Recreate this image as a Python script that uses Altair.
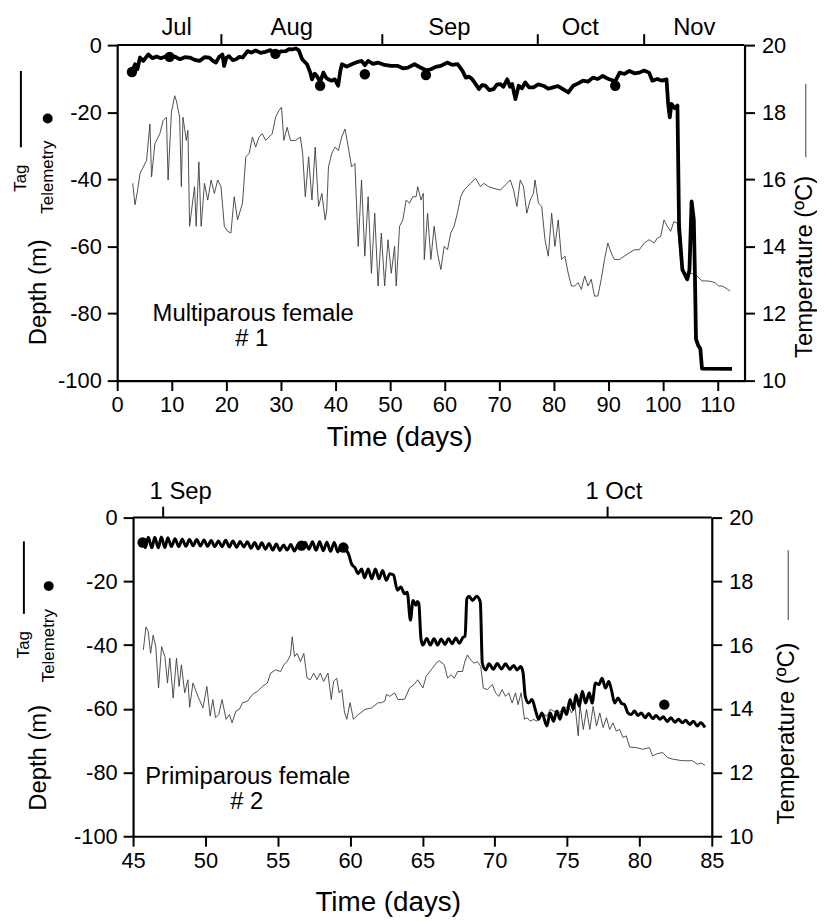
import altair as alt
import pandas as pd

FONT = "Liberation Sans"
INK = "black"
TEMP_INK = "#3c3c3c"

# ---------------- Panel 1 (multiparous female #1) ----------------
p1_tag = [(2.67, -8.0), (3.28, -5.7), (3.7, -7.2), (4.18, -3.7), (4.79, -4.7), (5.7, -2.8), (6.5, -3.9),
          (7.2, -3.4), (8.0, -3.9), (9.0, -3.3), (9.6, -3.6), (10.5, -3.4), (11.5, -4.2), (12.4, -3.6),
          (13.3, -3.7), (14.2, -4.4), (15.1, -4.7), (16.0, -3.6), (16.9, -3.7), (17.5, -4.6), (18.1, -5.2),
          (18.7, -3.5), (19.3, -2.8), (19.6, -6.2), (20.0, -3.8), (20.5, -3.3), (21.2, -4.5), (21.8, -4.2),
          (22.4, -3.5), (23.0, -3.7), (23.9, -1.8), (24.6, -2.2), (25.4, -1.6), (26.3, -2.3), (27.2, -2.0),
          (28.1, -1.5), (29.0, -2.6), (30.0, -1.9), (30.9, -1.8), (31.5, -1.2), (32.1, -1.3), (32.7, -1.0),
          (33.3, -1.6), (33.9, -4.2), (34.8, -5.7), (35.4, -8.2), (35.7, -10.2), (36.2, -8.5), (36.6, -9.2),
          (37.2, -11.0), (37.8, -8.2), (38.3, -9.7), (38.7, -10.2), (39.3, -10.6), (39.9, -10.2), (40.5, -12.1),
          (40.9, -7.7), (41.2, -5.7), (42.1, -6.4), (43.0, -5.7), (43.9, -5.1), (44.8, -4.7), (45.4, -6.0),
          (46.0, -4.7), (46.9, -5.6), (47.8, -5.2), (49.0, -5.9), (50.2, -6.2), (51.45, -6.2), (52.4, -6.9),
          (53.3, -6.7), (54.5, -5.7), (55.5, -6.6), (56.6, -7.5), (57.5, -7.2), (58.4, -6.5), (59.3, -6.2),
          (60.5, -5.2), (61.4, -5.9), (62.4, -5.7), (63.3, -7.7), (63.9, -9.7), (64.5, -9.4), (65.1, -10.2),
          (65.7, -11.6), (66.3, -13.1), (66.9, -11.9), (67.5, -12.1), (68.2, -13.4), (69.0, -13.1),
          (69.6, -11.8), (70.2, -11.6), (70.8, -12.4), (71.5, -10.2), (72.0, -12.4), (72.4, -11.6),
          (73.0, -16.1), (73.6, -12.1), (74.2, -12.9), (74.8, -11.1), (75.5, -12.6), (76.3, -12.6),
          (77.2, -11.7), (78.1, -12.1), (79.0, -13.0), (79.9, -12.6), (80.8, -12.2), (81.7, -13.1),
          (82.7, -14.1), (83.6, -12.1), (84.5, -11.4), (85.4, -10.6), (86.3, -10.9), (87.2, -9.7),
          (88.1, -10.1), (89.0, -9.2), (90.2, -10.2), (91.3, -10.8), (92.1, -8.2), (93.0, -8.6), (93.9, -7.7),
          (94.8, -8.4), (95.7, -8.2), (96.6, -7.6), (97.5, -8.2), (98.1, -10.6), (99.0, -10.1), (99.9, -10.6),
          (100.7, -10.2), (101.0, -17.5), (101.3, -21.5), (101.6, -17.5), (102.2, -18.8), (102.7, -18.0),
          (103.0, -54.0), (103.6, -66.9), (104.5, -69.8), (104.9, -67.0), (105.3, -46.6), (105.7, -52.0),
          (105.9, -67.9), (106.1, -87.6), (106.5, -89.5), (106.9, -90.5), (107.2, -96.4), (112.7, -96.5)]

p1_temp = [(2.85, 15.88), (3.27, 15.24), (3.70, 15.63), (4.18, 16.17), (4.79, 16.37), (5.39, 16.57),
           (6.00, 17.65), (6.30, 16.07), (6.91, 17.06), (7.82, 17.36), (8.42, 17.75), (9.03, 17.85),
           (9.33, 15.98), (9.94, 18.00), (10.55, 18.49), (10.85, 18.34), (11.45, 17.85), (11.76, 15.78),
           (12.06, 17.85), (12.67, 17.16), (12.97, 17.46), (13.27, 14.6), (14.18, 15.78), (14.48, 14.6),
           (14.97, 16.52), (15.39, 14.6), (16.0, 15.88), (16.6, 15.38), (17.21, 15.98), (17.82, 15.58),
           (18.42, 15.98), (19.03, 15.78), (19.64, 14.6), (20.24, 14.45), (20.85, 14.4), (21.45, 15.48),
           (22.06, 14.79), (22.97, 15.29), (23.58, 16.67), (24.18, 16.77), (24.79, 17.26), (25.39, 16.96),
           (26.0, 17.26), (26.6, 17.36), (27.21, 17.16), (27.82, 17.26), (28.42, 17.36), (29.03, 17.85),
           (29.64, 18.05), (30.12, 18.15), (30.55, 17.16), (31.15, 17.55), (31.76, 17.16), (32.67, 17.16),
           (33.58, 17.26), (34.0, 16.77), (34.48, 15.48), (35.09, 16.67), (35.7, 15.38), (36.3, 16.96),
           (36.91, 15.19), (37.52, 15.58), (38.12, 14.79), (38.42, 15.09), (38.73, 16.37), (39.33, 16.77),
           (39.94, 16.96), (40.55, 16.86), (41.15, 17.26), (41.76, 17.5), (42.36, 16.96), (42.97, 16.37),
           (43.58, 16.47), (44.18, 14.0), (44.79, 15.98), (45.39, 13.71), (46.0, 15.48), (46.6, 13.2),
           (47.21, 14.99), (47.82, 12.82), (48.42, 14.4), (49.03, 12.82), (49.64, 14.2), (50.24, 13.2),
           (50.85, 14.0), (51.15, 12.82), (51.76, 14.6), (52.36, 14.79), (52.97, 15.38), (53.58, 15.29),
           (54.18, 15.48), (54.79, 15.48), (55.09, 15.78), (55.7, 15.38), (56.1, 15.58), (56.3, 13.61),
           (56.9, 14.99), (57.5, 13.61), (58.1, 14.6), (58.7, 13.81), (59.33, 13.31), (59.94, 14.0),
           (60.55, 13.9), (61.15, 14.4), (61.76, 14.6), (62.36, 14.99), (62.97, 15.48), (63.58, 15.68),
           (64.18, 15.78), (64.79, 15.88), (65.7, 16.03), (66.6, 15.78), (67.2, 15.88), (68.1, 15.78),
           (69.03, 15.73), (70.24, 15.68), (71.45, 15.88), (72.06, 15.98), (72.67, 15.68), (73.27, 15.19),
           (73.88, 15.98), (74.48, 15.78), (75.09, 14.99), (75.7, 15.38), (76.3, 15.58), (76.6, 15.98),
           (77.21, 15.29), (77.82, 15.19), (78.42, 14.2), (79.03, 13.71), (79.64, 14.99), (80.24, 14.0),
           (80.85, 14.79), (81.45, 13.61), (82.06, 13.71), (82.67, 13.21), (83.27, 12.82), (83.88, 12.82),
           (84.48, 12.92), (85.09, 12.72), (85.7, 13.12), (86.3, 12.82), (86.9, 13.02), (87.5, 12.52),
           (88.12, 12.52), (88.73, 13.02), (89.33, 13.61), (89.94, 14.1), (90.55, 13.81), (91.15, 13.61),
           (92.06, 13.61), (92.97, 13.71), (93.88, 13.81), (94.79, 13.9), (95.7, 13.9), (96.6, 14.1),
           (97.5, 14.2), (98.42, 14.1), (99.03, 14.25), (99.64, 14.3), (100.24, 14.79), (100.85, 14.6),
           (101.45, 14.45), (102.06, 14.74), (102.67, 14.69), (103.27, 13.61), (103.88, 13.31),
           (104.5, 13.02), (105.1, 13.21), (105.7, 13.17), (106.3, 13.12), (107.2, 12.97), (108.4, 12.97),
           (109.6, 12.92), (110.24, 12.82), (110.85, 12.82), (111.45, 12.77), (112.36, 12.67)]

p1_tel = [(2.7, -8.0), (9.6, -3.5), (29.0, -2.6), (37.2, -12.1), (45.4, -8.7), (56.6, -8.9), (91.3, -12.1)]

p1_x_ticks = [0, 10, 20, 30, 40, 50, 60, 70, 80, 90, 100, 110]
p1_month_bounds = [19.1, 48.6, 77.1, 96.6]
p1_month_names = ["Jul", "Aug", "Sep", "Oct", "Nov"]
p1_month_centers = [10.9, 32.0, 60.9, 84.9, 105.8]

# ---------------- Panel 2 (primiparous female #2) ----------------
p2_tag = [(45.66, -7.8), (45.85, -9.4), (46.05, -6.2), (46.3, -9.5), (46.5, -6.2), (46.75, -9.5), (46.95, -6.1),
          (47.2, -9.4), (47.4, -6.3), (47.65, -9.1), (47.9, -6.6), (48.15, -9.1), (48.4, -6.8), (48.65, -9.0),
          (48.9, -6.9), (49.15, -8.8), (49.4, -6.9), (49.65, -8.9), (49.9, -7.0), (50.15, -9.0), (50.4, -7.2),
          (50.65, -9.1), (50.9, -7.3), (51.15, -9.1), (51.4, -7.1), (51.65, -9.2), (51.9, -7.3), (52.15, -9.3),
          (52.4, -7.5), (52.65, -9.2), (52.9, -7.6), (53.15, -9.6), (53.4, -7.8), (53.65, -9.8), (53.9, -7.9),
          (54.15, -9.9), (54.4, -8.1), (54.65, -10.2), (54.9, -8.3), (55.15, -10.3), (55.4, -8.6),
          (55.65, -10.2), (55.9, -8.4), (56.15, -10.5), (56.4, -8.6), (56.64, -8.8), (56.9, -7.8),
          (57.15, -9.9), (57.4, -7.6), (57.65, -10.2), (57.9, -7.6), (58.15, -10.4), (58.4, -7.7),
          (58.65, -10.6), (58.9, -7.8), (59.15, -10.8), (59.4, -8.5), (59.65, -9.7), (59.9, -11.5),
          (60.1, -14.5), (60.35, -15.8), (60.55, -17.6), (60.8, -16.1), (61.0, -18.9), (61.25, -16.1),
          (61.5, -19.2), (61.75, -16.1), (62.0, -19.2), (62.25, -16.6), (62.5, -19.7), (62.75, -17.6),
          (63.0, -18.0), (63.27, -22.8), (63.5, -21.8), (63.77, -23.9), (63.95, -23.4), (64.17, -32.2),
          (64.35, -26.0), (64.55, -27.5), (64.65, -26.3), (64.75, -26.9), (64.9, -38.0), (65.03, -40.0),
          (65.3, -37.9), (65.55, -40.0), (65.8, -38.0), (66.05, -40.0), (66.3, -38.1), (66.55, -39.8),
          (66.8, -38.0), (67.05, -39.6), (67.3, -37.8), (67.55, -39.4), (67.8, -37.6), (67.95, -37.2),
          (68.07, -25.5), (68.23, -24.7), (68.46, -26.0), (68.75, -24.7), (69.0, -26.5), (69.14, -45.7),
          (69.37, -47.8), (69.6, -45.9), (69.9, -47.6), (70.17, -45.8), (70.47, -47.5), (70.74, -45.9),
          (71.04, -47.6), (71.31, -46.4), (71.54, -47.8), (71.8, -46.7), (71.95, -48.5), (72.11, -56.1),
          (72.34, -58.2), (72.57, -57.1), (72.8, -60.2), (73.03, -63.3), (73.26, -61.3), (73.6, -65.4),
          (73.83, -61.3), (74.06, -63.9), (74.29, -60.7), (74.51, -63.3), (74.74, -59.7), (74.97, -61.8),
          (75.2, -57.1), (75.43, -60.2), (75.61, -55.6), (75.84, -59.2), (76.05, -54.5), (76.28, -58.2),
          (76.53, -55.0), (76.73, -58.2), (76.96, -51.9), (77.19, -52.4), (77.42, -50.4), (77.65, -53.5),
          (77.88, -51.4), (78.06, -54.0), (78.29, -58.2), (78.52, -56.6), (78.74, -58.2), (78.97, -58.7),
          (79.2, -61.3), (79.43, -61.8), (79.66, -60.7), (79.89, -62.1), (80.12, -61.3), (80.39, -62.8),
          (80.64, -61.5), (80.92, -63.1), (81.15, -62.1), (81.42, -63.3), (81.65, -62.5), (81.92, -64.0),
          (82.17, -62.8), (82.45, -64.2), (82.7, -63.3), (82.97, -64.4), (83.2, -63.6), (83.48, -64.9),
          (83.73, -63.9), (84.0, -65.4), (84.23, -64.4), (84.53, -65.9)]

p2_temp = [(45.71, 15.85), (45.89, 16.57), (46.05, 16.42), (46.21, 15.74), (46.39, 16.31), (46.57, 15.95),
           (46.76, 14.65), (46.97, 15.95), (47.2, 15.64), (47.38, 14.81), (47.54, 15.59), (47.77, 14.34),
           (48.0, 15.59), (48.18, 14.7), (48.34, 15.38), (48.57, 14.5), (48.79, 14.91), (48.91, 14.05),
           (49.14, 14.81), (49.48, 14.39), (49.83, 14.03), (50.1, 14.7), (50.33, 13.77), (50.51, 14.29),
           (50.7, 13.72), (50.92, 13.82), (51.15, 14.29), (51.43, 13.67), (51.66, 13.82), (51.84, 13.56),
           (52.11, 13.93), (52.34, 13.98), (52.57, 14.19), (52.91, 14.24), (53.26, 14.45), (53.6, 14.55),
           (53.94, 14.7), (54.28, 14.81), (54.51, 15.12), (54.85, 15.22), (55.2, 15.17), (55.42, 15.38),
           (55.65, 15.48), (55.88, 15.69), (56.0, 16.26), (56.16, 15.64), (56.34, 15.74), (56.57, 15.48),
           (56.8, 15.74), (57.03, 14.96), (57.25, 14.91), (57.48, 15.12), (57.71, 14.91), (57.94, 15.12),
           (58.17, 14.86), (58.47, 15.12), (58.7, 14.29), (58.86, 14.86), (59.08, 14.96), (59.24, 14.5),
           (59.43, 14.6), (59.61, 13.9), (59.77, 13.67), (60.0, 14.19), (60.23, 13.67), (60.57, 13.82),
           (61.03, 13.98), (61.49, 14.03), (61.94, 14.19), (62.17, 14.19), (62.4, 14.24), (62.51, 14.45),
           (62.74, 14.39), (63.08, 14.5), (63.31, 14.29), (63.77, 14.3), (64.11, 14.65), (64.41, 14.76),
           (64.68, 14.91), (65.03, 14.65), (65.26, 15.02), (65.6, 15.22), (65.94, 15.43), (66.17, 15.51),
           (66.51, 15.38), (66.74, 14.96), (66.97, 15.07), (67.2, 14.96), (67.43, 15.17), (67.77, 15.17),
           (67.93, 15.48), (68.11, 15.69), (68.34, 15.53), (68.57, 15.43), (68.8, 15.48), (69.03, 15.33),
           (69.21, 14.65), (69.48, 14.6), (69.83, 14.76), (70.06, 14.5), (70.28, 14.39), (70.51, 14.6),
           (70.74, 14.39), (70.97, 14.5), (71.2, 14.18), (71.43, 14.5), (71.61, 14.13), (71.82, 14.5),
           (72.05, 13.67), (72.23, 13.72), (72.46, 13.61), (72.69, 13.67), (72.91, 13.61), (73.26, 13.87),
           (73.6, 13.77), (73.83, 13.98), (74.06, 13.93), (74.4, 13.87), (74.74, 13.98), (75.09, 14.08),
           (75.31, 13.87), (75.54, 14.13), (75.77, 13.15), (75.89, 14.13), (76.12, 13.35), (76.34, 13.98),
           (76.57, 13.35), (76.8, 14.08), (77.03, 13.46), (77.26, 13.87), (77.49, 13.41), (77.72, 13.72),
           (77.94, 13.35), (78.17, 13.56), (78.4, 13.3), (78.63, 13.35), (78.86, 13.1), (79.09, 13.15),
           (79.32, 12.8), (79.77, 12.78), (80.23, 12.73), (80.69, 12.78), (80.91, 12.52), (81.15, 12.58),
           (81.6, 12.63), (81.94, 12.47), (82.29, 12.42), (82.97, 12.37), (83.66, 12.37), (84.0, 12.26),
           (84.25, 12.3), (84.53, 12.23)]

p2_tel = [(45.66, -7.8), (56.64, -8.8), (59.54, -9.4), (81.72, -58.7)]

p2_x_ticks = [45, 50, 55, 60, 65, 70, 75, 80, 85]
p2_date_ticks = [47.08, 77.8]
p2_date_names = ["1 Sep", "1 Oct"]
p2_date_centers = [48.29, 78.23]

depth_ticks = [-100, -80, -60, -40, -20, 0]
temp_ticks = [10, 12, 14, 16, 18, 20]


def axis_style(**kw):
    base = dict(grid=False, title=None, tickSize=10, tickWidth=2, domainWidth=2.2,
                labelFontSize=22, labelFont=FONT, labelColor=INK, tickColor=INK,
                domainColor=INK, labelFlush=False, labelOverlap=False,
                labelExpr="'' + datum.value")
    base.update(kw)
    return alt.Axis(**base)


def text_mark(txt, x, y, size, angle=0, baseline="middle", align="center"):
    return alt.Chart(pd.DataFrame({"t": [txt]})).mark_text(
        fontSize=size, font=FONT, color=INK, angle=angle, baseline=baseline, align=align
    ).encode(text="t:N", x=alt.value(x), y=alt.value(y))


def vrule(x, y1, y2, width, color=INK):
    return alt.Chart(pd.DataFrame({"k": [0]})).mark_rule(color=color, strokeWidth=width).encode(
        x=alt.value(x), y=alt.value(y1), y2=alt.value(y2))


def build_panel(tag, temp, tel, xdom, xvals, xrange_, width, height, yoff,
                top_ticks, top_names, top_centers, top_label_y,
                ann1, ann1_pos, ann2, ann2_pos, time_pos, left, right, tag_width, interp):
    xs = alt.Scale(domain=xdom, range=xrange_, nice=False, zero=False)
    ys = alt.Scale(domain=[-100, 0], nice=False, zero=False)
    ts = alt.Scale(domain=[10, 20], nice=False, zero=False)

    tag_df = pd.DataFrame(tag, columns=["day", "depth"])
    temp_df = pd.DataFrame(temp, columns=["day", "temp"])
    tel_df = pd.DataFrame(tel, columns=["day", "depth"])

    temp_line = alt.Chart(temp_df).mark_line(color=TEMP_INK, strokeWidth=0.9).encode(
        x=alt.X("day:Q", scale=xs, axis=axis_style(values=xvals, labelPadding=4)),
        y=alt.Y("temp:Q", scale=ts, axis=axis_style(orient="right", values=temp_ticks, labelPadding=7)),
    )
    depth_axis = axis_style(orient="left", values=depth_ticks, labelPadding=6, offset=yoff)
    tag_line = alt.Chart(tag_df).mark_line(color=INK, strokeWidth=tag_width, interpolate=interp,
                                           strokeJoin="round").encode(
        x=alt.X("day:Q"),
        y=alt.Y("depth:Q", scale=ys, axis=depth_axis),
    )
    tel_pts = alt.Chart(tel_df).mark_circle(color=INK, size=110, opacity=1).encode(
        x="day:Q", y=alt.Y("depth:Q", scale=ys, axis=depth_axis))

    top_line = alt.Chart(pd.DataFrame({"a": [xdom[0]], "b": [xdom[1]]})).mark_rule(
        color=INK, strokeWidth=2).encode(x="a:Q", x2="b:Q", y=alt.value(0))
    top_tick = alt.Chart(pd.DataFrame({"d": top_ticks})).mark_rule(color=INK, strokeWidth=2).encode(
        x="d:Q", y=alt.value(0), y2=alt.value(-11))
    top_lab = alt.Chart(pd.DataFrame({"c": top_centers, "m": top_names})).mark_text(
        fontSize=24, font=FONT, color=INK, baseline="alphabetic").encode(
        x="c:Q", y=alt.value(top_label_y), text="m:N")

    extras = [
        text_mark(ann1, ann1_pos[0], ann1_pos[1], 24, baseline="alphabetic"),
        text_mark(ann2, ann2_pos[0], ann2_pos[1], 24, baseline="alphabetic"),
        text_mark("Time (days)", time_pos[0], time_pos[1], 28, baseline="alphabetic"),
        # left title block
        vrule(left["tag_x"], left["line_y"][0], left["line_y"][1], 2),
        text_mark("Tag", left["tag_x"], left["tag_y"], 17, angle=270),
        alt.Chart(pd.DataFrame({"k": [0]})).mark_circle(color=INK, size=100, opacity=1).encode(
            x=alt.value(left["tel_x"]), y=alt.value(left["dot_y"])),
        text_mark("Telemetry", left["tel_x"], left["tel_y"], 17, angle=270),
        text_mark("Depth (m)", left["depth_x"], left["depth_y"], 24, angle=270),
        # right title block
        vrule(right["line_x"], right["line_y"][0], right["line_y"][1], 1, TEMP_INK),
        text_mark("Temperature (ºC)", right["x"], right["y"], 24, angle=270),
    ]

    depth_layer = alt.layer(tag_line, tel_pts, top_line, top_tick, top_lab, *extras)
    return alt.layer(temp_line, depth_layer).resolve_scale(y="independent").properties(
        width=width, height=height)


panel1 = build_panel(
    p1_tag, p1_temp, p1_tel, [0, 115], p1_x_ticks, [0, 632], 632, 338, 0,
    p1_month_bounds, p1_month_names, p1_month_centers, -10.5,
    "Multiparous female", (137, 277.7), "# 1", (135.5, 303), (284.5, 404),
    dict(tag_x=-97, line_y=(26, 103), tag_y=134, tel_x=-70, dot_y=74, tel_y=133, depth_x=-79, depth_y=249),
    dict(line_x=693.7, line_y=(39, 113), x=693, y=223.5),
    3.8, "linear",
)

panel2 = build_panel(
    p2_tag, p2_temp, p2_tel, [45, 85], p2_x_ticks, [16, 599], 599, 321, -16,
    p2_date_ticks, p2_date_names, p2_date_centers, -18.3,
    "Primiparous female", (131.5, 268), "# 2", (130.5, 293.5), (273, 396.7),
    dict(tag_x=-94, line_y=(24, 97), tag_y=128, tel_x=-69, dot_y=69, tel_y=129, depth_x=-79, depth_y=242),
    dict(line_x=676, line_y=(33, 103), x=675, y=217.5),
    3.0, "monotone",
)

chart = alt.vconcat(panel1, panel2, spacing=138, bounds="flush",
                    padding={"left": 4, "top": 4, "right": 0, "bottom": 0}).configure_view(stroke=None)

chart.save("out.html", embed_options={"renderer": "svg", "actions": False})
